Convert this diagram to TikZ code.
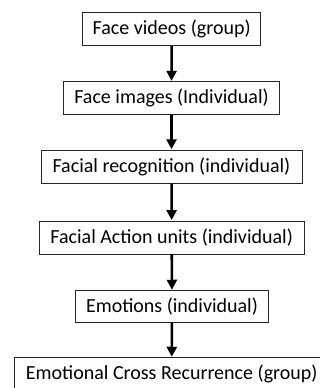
\documentclass[tikz,border=0pt]{standalone}
\usepackage{fontspec}
\setmainfont{Carlito}
\usetikzlibrary{arrows.meta}
\begin{document}
\begin{tikzpicture}[x=1pt,y=-1pt,
  box/.style={draw=black!85,line width=0.9pt,minimum height=33pt,inner sep=0pt,font=\fontsize{20}{24}\selectfont,fill=white},
  flow/.style={line width=2.6pt,-{Triangle[width=10pt,length=10pt]},shorten >=0.5pt}]
\clip (0,0) rectangle (320,388);
\fill[white] (0,0) rectangle (320,388);
\node[box,minimum width=178pt] (a) at (171.7,29.2) {Face videos (group)};
\node[box,minimum width=215.6pt] (b) at (171.5,98.3) {Face images (Individual)};
\node[box,minimum width=261pt] (c) at (171.5,166.7) {Facial recognition (individual)};
\node[box,minimum width=264.7pt] (d) at (171.7,237.5) {Facial Action units (individual)};
\node[box,minimum width=193.3pt,minimum height=31.6pt] (e) at (172,306.5) {Emotions (individual)};
\node[box,minimum width=315.4pt] (f) at (171.7,374.2) {Emotional Cross Recurrence (group)};
\draw[flow] (a) -- (b);
\draw[flow] (b) -- (c);
\draw[flow] (c) -- (d);
\draw[flow] (d) -- (e);
\draw[flow] (e) -- (f);
\end{tikzpicture}
\end{document}
